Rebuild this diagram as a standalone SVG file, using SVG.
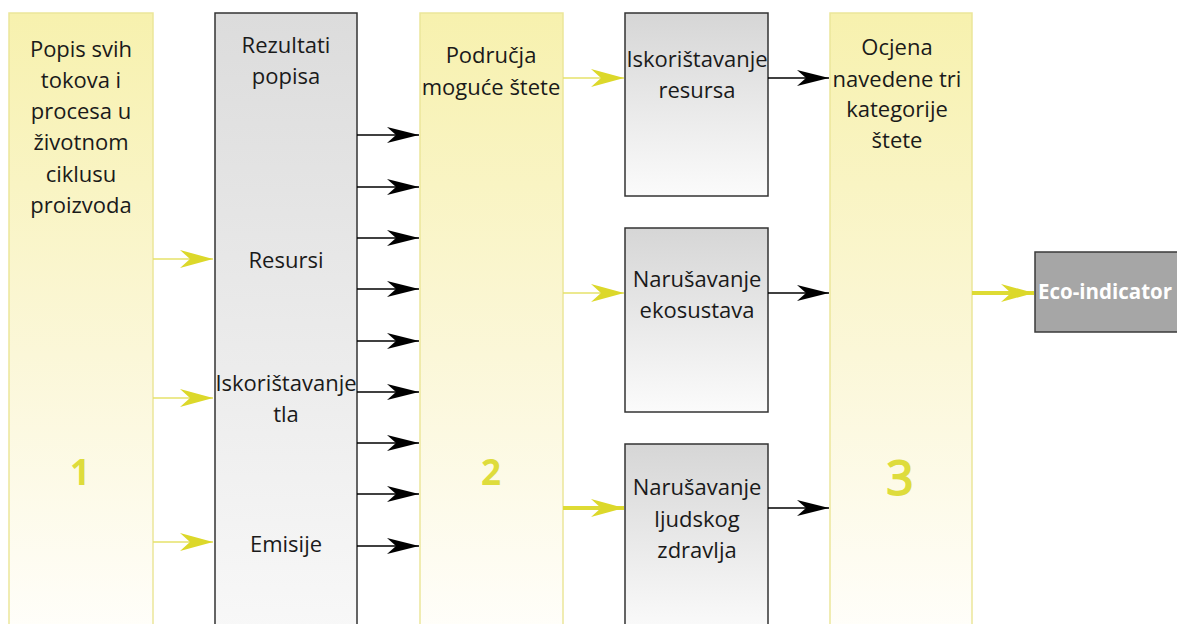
<svg xmlns="http://www.w3.org/2000/svg" width="1177" height="624" viewBox="0 0 1177 624">
  <defs>
    <linearGradient id="gYellow" x1="0" y1="0" x2="0" y2="1">
      <stop offset="0" stop-color="#f7f1ae"/>
      <stop offset="0.55" stop-color="#fbf7d8"/>
      <stop offset="1" stop-color="#fffefa"/>
    </linearGradient>
    <linearGradient id="gGrayTall" x1="0" y1="0" x2="0" y2="1">
      <stop offset="0" stop-color="#dcdcdc"/>
      <stop offset="1" stop-color="#f8f8f8"/>
    </linearGradient>
    <linearGradient id="gGray" x1="0" y1="0" x2="0" y2="1">
      <stop offset="0" stop-color="#d6d6d6"/>
      <stop offset="1" stop-color="#fbfbfb"/>
    </linearGradient>
    <marker id="mBlack" viewBox="-32 -8 32 16" refX="0" refY="0" markerWidth="32" markerHeight="16" markerUnits="userSpaceOnUse" orient="auto">
      <path d="M0,0 L-32,-8 L-23,0 L-32,8 Z" fill="#000"/>
    </marker>
    <marker id="mYellow" viewBox="-33 -9 33 18" refX="0" refY="0" markerWidth="33" markerHeight="18" markerUnits="userSpaceOnUse" orient="auto">
      <path d="M0,0 L-33,-9 L-23,0 L-33,9 Z" fill="#dcd82a"/>
    </marker>
  </defs>
  <style>
    .ybox { fill: url(#gYellow); stroke: #ebe69a; stroke-width: 1.5; }
    .gtall { fill: url(#gGrayTall); stroke: #333; stroke-width: 1.5; }
    .gbox { fill: url(#gGray); stroke: #333; stroke-width: 1.5; }
    .ebox { fill: #a6a6a6; stroke: #3a3a3a; stroke-width: 1.5; }
    .t { font-family: "Open Sans", "Liberation Sans", sans-serif; font-size: 22px; fill: #1a1a1a; text-anchor: middle; }
    .num { font-family: "Open Sans", "Liberation Sans", sans-serif; font-weight: bold; fill: #dedc3c; text-anchor: middle; }
    .eco { font-family: "Open Sans", "Liberation Sans", sans-serif; font-weight: bold; font-size: 20.5px; fill: #fff; }
    .blk { stroke: #000; stroke-width: 1.3; fill: none; marker-end: url(#mBlack); }
    .yl { stroke: #e6e26a; stroke-width: 1.5; fill: none; marker-end: url(#mYellow); }
    .yt { stroke: #dedb34; stroke-width: 4; fill: none; marker-end: url(#mYellow); }
  </style>

  <g id="node-1">
    <rect class="ybox" x="9" y="13" width="144" height="620"/>
    <text class="t" x="81" y="57">Popis svih</text>
    <text class="t" x="81" y="88">tokova i</text>
    <text class="t" x="81" y="119">procesa u</text>
    <text class="t" x="81" y="150">životnom</text>
    <text class="t" x="81" y="182">ciklusu</text>
    <text class="t" x="81" y="213">proizvoda</text>
    <text class="num" x="80" y="485" font-size="35">1</text>
  </g>

  <g id="node-rezultati">
    <rect class="gtall" x="215" y="13" width="142" height="620"/>
    <text class="t" x="286" y="53">Rezultati</text>
    <text class="t" x="286" y="84">popisa</text>
    <text class="t" x="286" y="268">Resursi</text>
    <text class="t" x="286" y="391">Iskorištavanje</text>
    <text class="t" x="286" y="422">tla</text>
    <text class="t" x="286" y="552">Emisije</text>
  </g>

  <g id="node-2">
    <rect class="ybox" x="420" y="13" width="143" height="620"/>
    <text class="t" x="491" y="63">Područja</text>
    <text class="t" x="491" y="95">moguće štete</text>
    <text class="num" x="491" y="485" font-size="35">2</text>
  </g>

  <g id="node-resursa">
    <rect class="gbox" x="625" y="13" width="143" height="183"/>
    <text class="t" x="697" y="67">Iskorištavanje</text>
    <text class="t" x="697" y="98">resursa</text>
  </g>

  <g id="node-ekosustava">
    <rect class="gbox" x="625" y="228" width="143" height="184"/>
    <text class="t" x="697" y="287">Narušavanje</text>
    <text class="t" x="697" y="318">ekosustava</text>
  </g>

  <g id="node-zdravlja">
    <rect class="gbox" x="625" y="444" width="143" height="190"/>
    <text class="t" x="697" y="495">Narušavanje</text>
    <text class="t" x="697" y="527">ljudskog</text>
    <text class="t" x="697" y="558">zdravlja</text>
  </g>

  <g id="node-3">
    <rect class="ybox" x="830" y="13" width="142" height="620"/>
    <text class="t" x="897" y="55">Ocjena</text>
    <text class="t" x="897" y="87">navedene tri</text>
    <text class="t" x="897" y="117">kategorije</text>
    <text class="t" x="897" y="148">štete</text>
    <text class="num" x="900" y="495" font-size="47" style="font-weight:normal" stroke="#dedc3c" stroke-width="2">3</text>
  </g>

  <g id="node-eco">
    <rect class="ebox" x="1035" y="252" width="150" height="80"/>
    <text class="eco" x="1038" y="299">Eco-indicator</text>
  </g>

  <g id="connectors">
    <line class="yl" x1="153" y1="259" x2="213" y2="259"/>
    <line class="yl" x1="153" y1="398" x2="213" y2="398"/>
    <line class="yl" x1="153" y1="542" x2="213" y2="542"/>

    <line class="blk" x1="357" y1="135" x2="419" y2="135"/>
    <line class="blk" x1="357" y1="187" x2="419" y2="187"/>
    <line class="blk" x1="357" y1="238" x2="419" y2="238"/>
    <line class="blk" x1="357" y1="289" x2="419" y2="289"/>
    <line class="blk" x1="357" y1="341" x2="419" y2="341"/>
    <line class="blk" x1="357" y1="392" x2="419" y2="392"/>
    <line class="blk" x1="357" y1="443" x2="419" y2="443"/>
    <line class="blk" x1="357" y1="494" x2="419" y2="494"/>
    <line class="blk" x1="357" y1="546" x2="419" y2="546"/>

    <line class="yl" x1="563" y1="78" x2="624" y2="78"/>
    <line class="yl" x1="563" y1="293" x2="624" y2="293"/>
    <line class="yt" x1="563" y1="508" x2="624" y2="508"/>

    <line class="blk" x1="768" y1="78" x2="829" y2="78"/>
    <line class="blk" x1="768" y1="293" x2="829" y2="293"/>
    <line class="blk" x1="768" y1="508" x2="829" y2="508"/>

    <line class="yt" x1="972" y1="293" x2="1034" y2="293"/>
  </g>
</svg>
